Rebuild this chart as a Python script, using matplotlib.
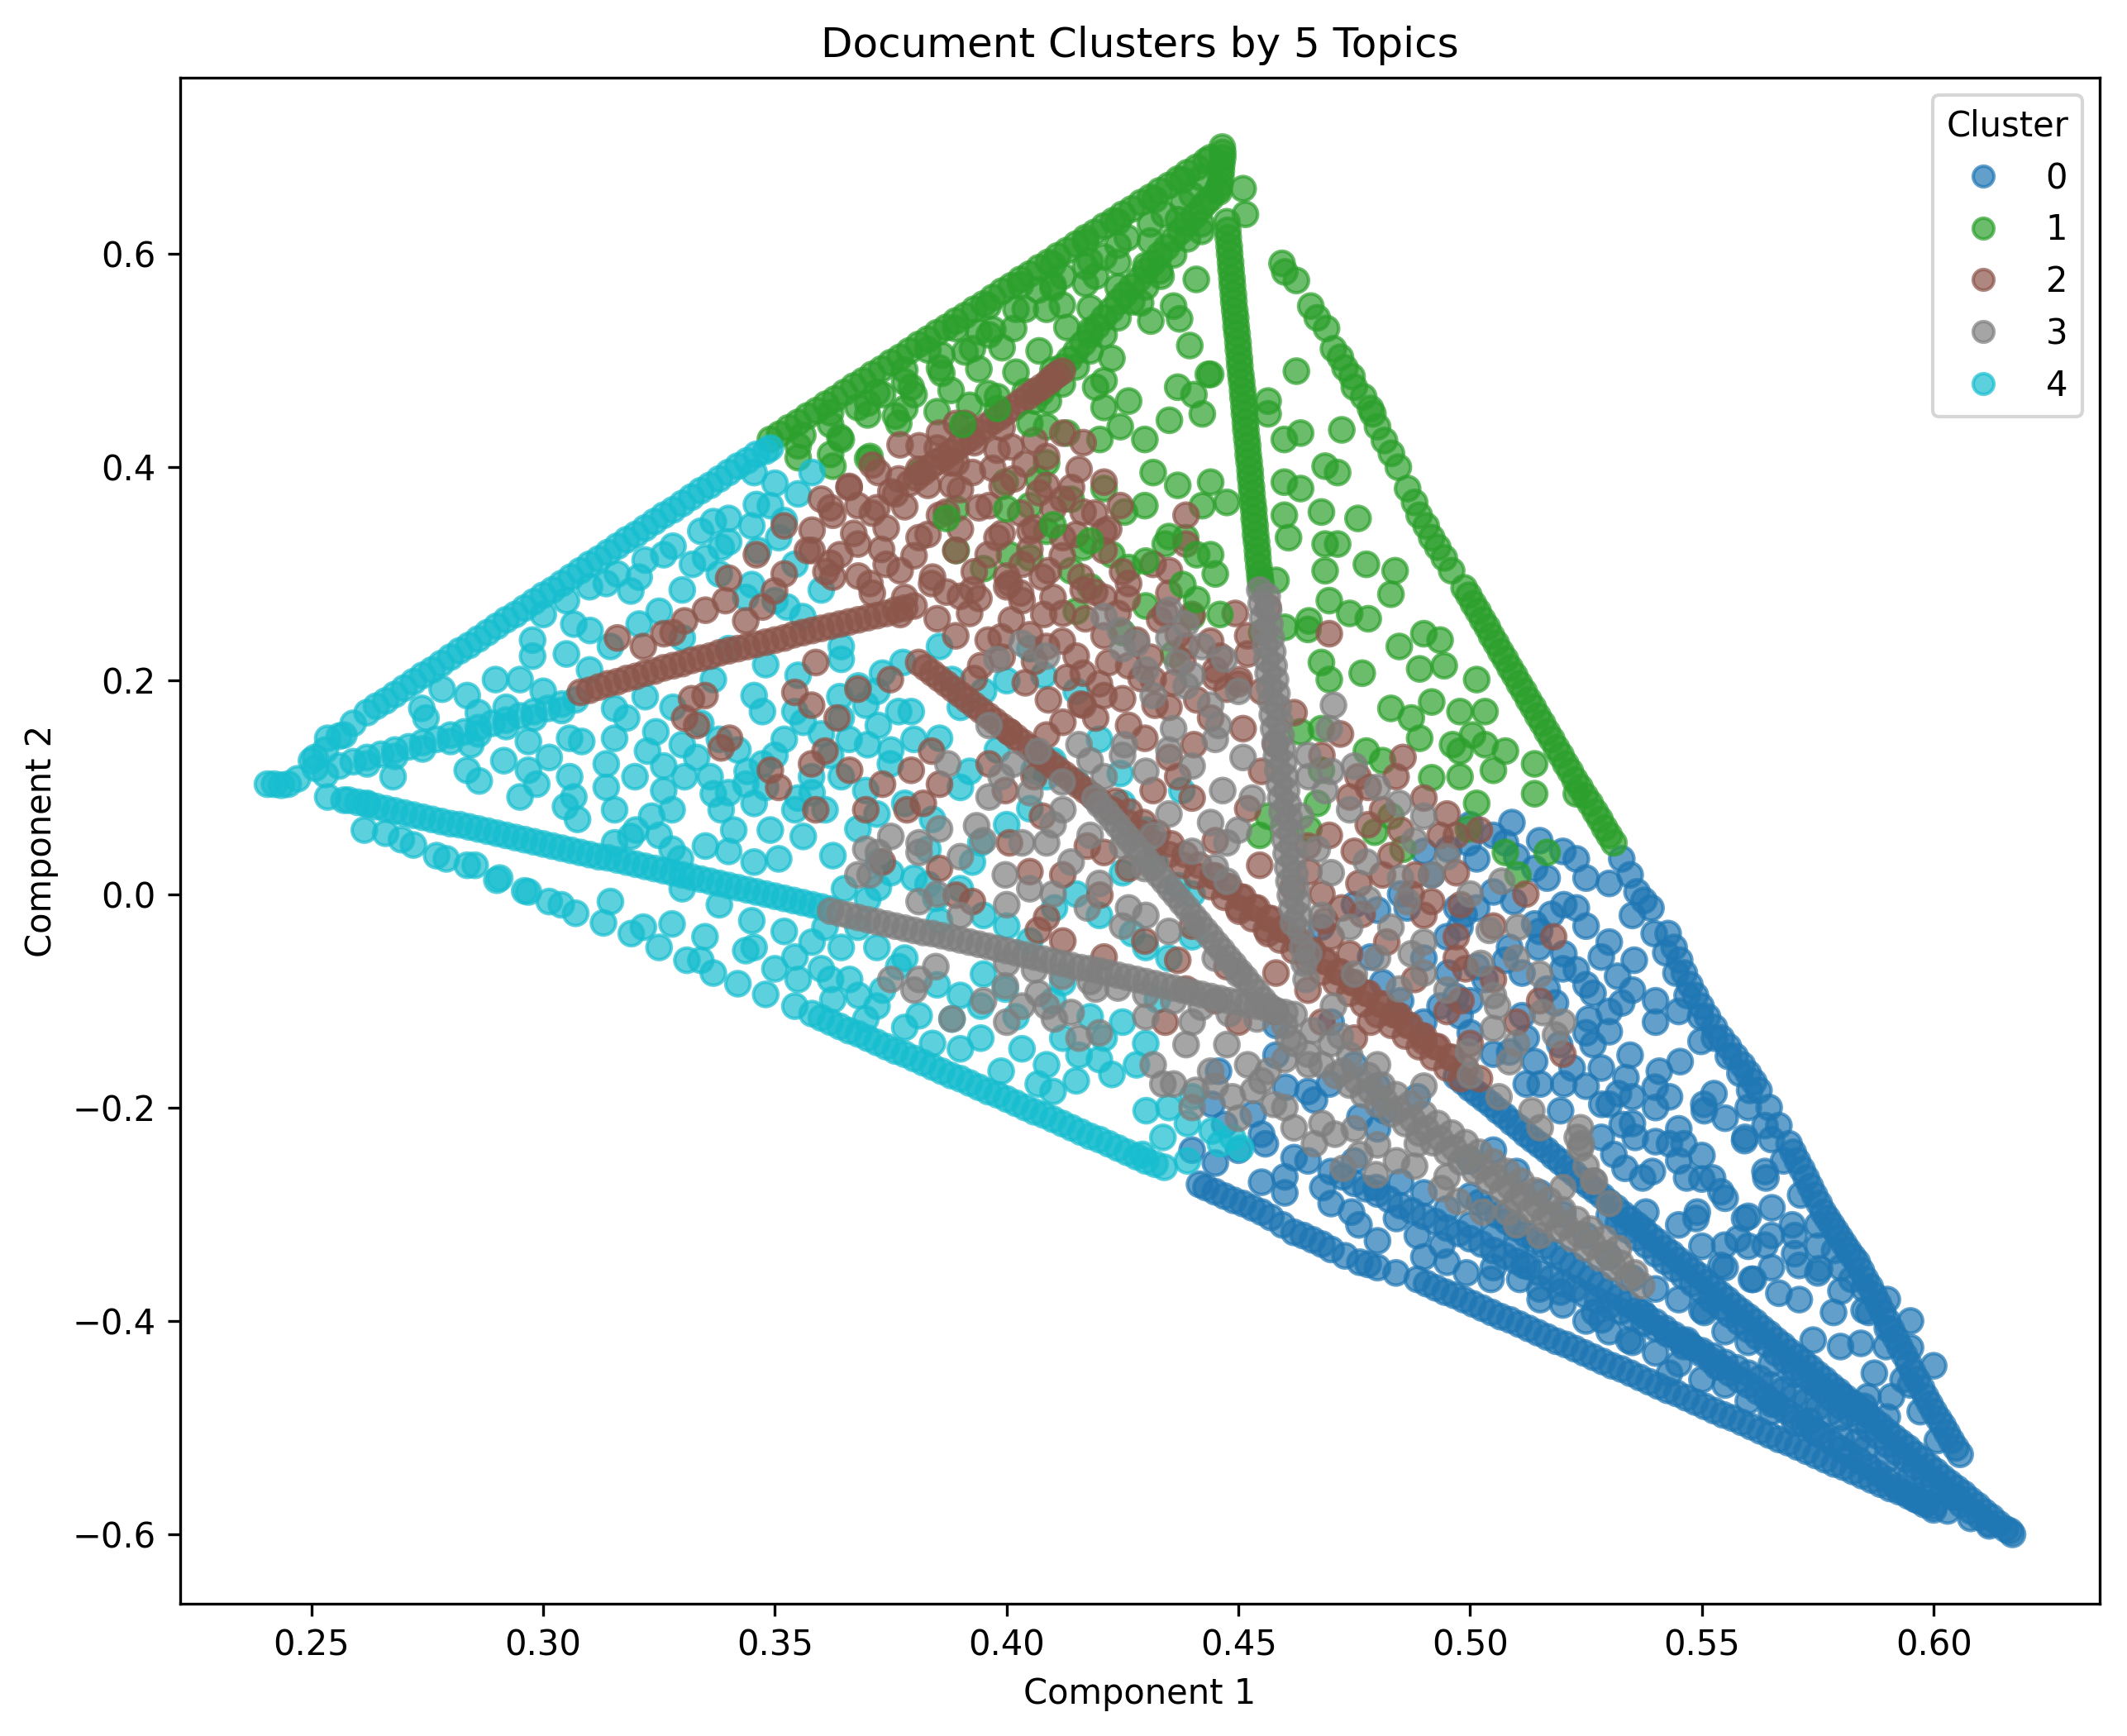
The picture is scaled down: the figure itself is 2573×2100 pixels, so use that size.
import numpy as np
import matplotlib
matplotlib.use("Agg")
import matplotlib.pyplot as plt

# points, groupes par cluster puis par "rayon"

# cluster 0 (bleu)
c0_edge = [(0.5327,0.033),(0.5345,0.018),(0.536,0.002),(0.5375,-0.006),(0.539,-0.013),(0.5427,-0.037),
           (0.5440,-0.050),(0.5452,-0.062),(0.5462,-0.074),(0.5474,-0.085),(0.5486,-0.095),(0.5498,-0.105),
           (0.5512,-0.115),(0.5527,-0.125),(0.5542,-0.135),(0.5557,-0.143),(0.5572,-0.152),(0.5587,-0.160),
           (0.5600,-0.168),(0.5612,-0.176),(0.5623,-0.184),(0.5645,-0.200),(0.5666,-0.217),(0.5688,-0.234),
           (0.5706,-0.250),(0.5725,-0.266),(0.5743,-0.282),(0.5762,-0.298),(0.5780,-0.310),(0.5798,-0.322),
           (0.5816,-0.334),(0.5835,-0.345),(0.5853,-0.361),(0.5872,-0.376),(0.5890,-0.392),(0.5909,-0.408),
           (0.5927,-0.424),(0.5946,-0.440),(0.5964,-0.455),(0.5983,-0.471),(0.6001,-0.485),(0.6020,-0.498),
           (0.6038,-0.512),(0.6057,-0.525),
           (0.5397,-0.037),(0.5422,-0.055),(0.5444,-0.074),(0.5468,-0.095),(0.5497,-0.115),(0.5527,-0.135),
           (0.5557,-0.152),(0.5582,-0.168),(0.5603,-0.184),(0.5636,-0.217),(0.5676,-0.250),(0.5713,-0.282),
           (0.5750,-0.310),(0.5786,-0.334),(0.5823,-0.361),(0.5860,-0.392),(0.5897,-0.424),(0.5934,-0.455),
           (0.5971,-0.485),(0.6008,-0.512),
           (0.5697,-0.242),(0.5716,-0.258),(0.5734,-0.274),(0.5753,-0.290),(0.5771,-0.304),(0.5789,-0.316),
           (0.5807,-0.328),(0.5826,-0.340),(0.5844,-0.353),(0.5863,-0.368),(0.5881,-0.384),(0.5900,-0.400),
           (0.5918,-0.416),(0.5937,-0.432),(0.5955,-0.448),(0.5974,-0.463),(0.5992,-0.478),(0.6011,-0.492),
           (0.6029,-0.505),(0.6048,-0.519)]
c0_ray_a = [(0.497,-0.171),(0.500,-0.182),(0.503,-0.192),(0.506,-0.203),(0.509,-0.214),(0.512,-0.225),
            (0.515,-0.235),(0.518,-0.246),(0.521,-0.257),(0.524,-0.268),(0.527,-0.278),(0.530,-0.289),
            (0.533,-0.300),(0.536,-0.310),(0.539,-0.321),(0.542,-0.332),(0.545,-0.343),(0.548,-0.353),
            (0.551,-0.364),(0.554,-0.375),(0.557,-0.386),(0.560,-0.396),(0.563,-0.407),(0.566,-0.418),
            (0.569,-0.429),(0.572,-0.439),(0.575,-0.450),(0.578,-0.461),(0.581,-0.472),(0.584,-0.482),
            (0.587,-0.493),(0.590,-0.504),(0.593,-0.514),(0.596,-0.525),(0.599,-0.536),(0.602,-0.547),
            (0.605,-0.557),(0.608,-0.568),(0.611,-0.579),(0.614,-0.590),(0.617,-0.600),(0.6165,-0.597),
            (0.4985,-0.176),(0.5015,-0.187),(0.5045,-0.197),(0.5075,-0.208),(0.5105,-0.219),(0.5135,-0.230),
            (0.5165,-0.240),(0.5195,-0.251),(0.5225,-0.262),(0.5255,-0.273),(0.5285,-0.283),(0.5315,-0.294),
            (0.5345,-0.305),(0.5375,-0.315),(0.5405,-0.326),(0.5435,-0.337),(0.5465,-0.348),(0.5495,-0.358),
            (0.5525,-0.369),(0.5555,-0.380),(0.5585,-0.391),(0.5615,-0.401),(0.5645,-0.412),(0.5675,-0.423),
            (0.5705,-0.434),(0.5735,-0.444),(0.5765,-0.455),(0.5795,-0.466),(0.5825,-0.477),(0.5855,-0.487),
            (0.5885,-0.498),(0.5915,-0.509),(0.5945,-0.519),(0.5975,-0.530),(0.6005,-0.541),(0.6035,-0.552),
            (0.6065,-0.562),(0.6095,-0.573),(0.6125,-0.584),(0.6155,-0.595)]
c0_ray_a2 = [(0.530,-0.301),(0.534,-0.315),(0.538,-0.329),(0.542,-0.344),(0.546,-0.358),(0.550,-0.372),
             (0.554,-0.387),(0.558,-0.401),(0.562,-0.415),(0.566,-0.430),(0.570,-0.444),(0.574,-0.458),
             (0.578,-0.473),(0.582,-0.487),(0.586,-0.501),(0.590,-0.516),(0.594,-0.530),(0.598,-0.544),
             (0.602,-0.558),(0.606,-0.572),(0.610,-0.584),
             (0.532,-0.308),(0.536,-0.322),(0.540,-0.337),(0.544,-0.351),(0.548,-0.365),(0.552,-0.380),
             (0.556,-0.394),(0.560,-0.408),(0.564,-0.422),(0.568,-0.437),(0.572,-0.451),(0.576,-0.465),
             (0.580,-0.480),(0.584,-0.494),(0.588,-0.508),(0.592,-0.523),(0.596,-0.537),(0.600,-0.551),
             (0.604,-0.565),(0.608,-0.578),(0.612,-0.590)]
c0_ray_b = [(0.500,-0.283),(0.504,-0.295),(0.508,-0.307),(0.512,-0.319),(0.516,-0.330),(0.520,-0.342),
            (0.524,-0.354),(0.528,-0.366),(0.532,-0.378),(0.536,-0.390),(0.540,-0.401),(0.544,-0.413),
            (0.548,-0.425),(0.552,-0.437),(0.556,-0.449),(0.560,-0.460),(0.564,-0.472),(0.568,-0.484),
            (0.572,-0.496),(0.576,-0.508),(0.580,-0.520),(0.584,-0.531),(0.588,-0.543),(0.592,-0.555),
            (0.596,-0.567),(0.600,-0.577),
            (0.502,-0.289),(0.506,-0.301),(0.510,-0.313),(0.514,-0.325),(0.518,-0.336),(0.522,-0.348),
            (0.526,-0.360),(0.530,-0.372),(0.534,-0.384),(0.538,-0.396),(0.542,-0.407),(0.546,-0.419),
            (0.550,-0.431),(0.554,-0.443),(0.558,-0.455),(0.562,-0.466),(0.566,-0.478),(0.570,-0.490),
            (0.574,-0.502),(0.578,-0.514),(0.582,-0.526),(0.586,-0.537),(0.590,-0.549),(0.594,-0.561),
            (0.598,-0.572)]
c0_low = [(0.4886,-0.361),(0.4926,-0.369),(0.4966,-0.376),(0.5006,-0.384),(0.5046,-0.392),(0.5086,-0.399),
          (0.5126,-0.407),(0.5166,-0.415),(0.5206,-0.422),(0.5246,-0.430),(0.5286,-0.438),(0.5326,-0.445),
          (0.5366,-0.453),(0.5406,-0.461),(0.5446,-0.468),(0.5486,-0.476),(0.5526,-0.484),(0.5566,-0.491),
          (0.5606,-0.499),(0.5646,-0.507),(0.5686,-0.514),(0.5726,-0.522),(0.5766,-0.530),(0.5806,-0.537),
          (0.5846,-0.545),(0.5886,-0.553),(0.5926,-0.560),(0.5966,-0.568),(0.600,-0.574),
          (0.4906,-0.365),(0.4946,-0.373),(0.4986,-0.380),(0.5026,-0.388),(0.5066,-0.396),(0.5106,-0.403),
          (0.5146,-0.411),(0.5186,-0.419),(0.5226,-0.426),(0.5266,-0.434),(0.5306,-0.442),(0.5346,-0.449),
          (0.5386,-0.457),(0.5426,-0.465),(0.5466,-0.472),(0.5506,-0.480),(0.5546,-0.488),(0.5586,-0.495),
          (0.5626,-0.503),(0.5666,-0.511),(0.5706,-0.518),(0.5746,-0.526),(0.5786,-0.534),(0.5826,-0.541),
          (0.5866,-0.549),(0.5906,-0.557),(0.5946,-0.564),(0.5985,-0.571),(0.603,-0.578),(0.608,-0.585),
          (0.612,-0.592),
          (0.4416,-0.272),(0.445,-0.279),(0.449,-0.287),(0.453,-0.294),(0.457,-0.303),(0.462,-0.317),
          (0.466,-0.324),(0.470,-0.333),(0.4762,-0.345),(0.480,-0.350),
          (0.443,-0.275),(0.447,-0.283),(0.451,-0.290),(0.455,-0.298),(0.4595,-0.310),(0.464,-0.320),
          (0.468,-0.328),(0.473,-0.339),(0.478,-0.347),(0.484,-0.355)]
c0_ray_e = [(0.470,-0.260),(0.475,-0.271),(0.480,-0.281),(0.485,-0.292),(0.490,-0.302),(0.495,-0.313),
            (0.500,-0.323),(0.505,-0.334),(0.510,-0.344),(0.515,-0.355),(0.520,-0.365),(0.525,-0.376),
            (0.530,-0.386),(0.535,-0.397),(0.540,-0.407),(0.545,-0.418),(0.550,-0.428),(0.555,-0.439),
            (0.560,-0.449),(0.565,-0.460),(0.570,-0.470),(0.575,-0.481),(0.580,-0.491),
            (0.4725,-0.265),(0.4775,-0.276),(0.4825,-0.286),(0.4875,-0.297),(0.4925,-0.307),(0.4975,-0.318),
            (0.5025,-0.328),(0.5075,-0.339),(0.5125,-0.349),(0.5175,-0.360),(0.5225,-0.370),(0.5275,-0.381),
            (0.5325,-0.391),(0.5375,-0.402),(0.5425,-0.412),(0.5475,-0.423),(0.5525,-0.433),(0.5575,-0.444),
            (0.5625,-0.454),(0.5675,-0.465),(0.5725,-0.475),(0.5775,-0.486)]
c0_ray_f = [(0.525,-0.180),(0.530,-0.197),(0.535,-0.215),(0.540,-0.232),(0.545,-0.250),(0.550,-0.267),
            (0.555,-0.285),(0.560,-0.302),(0.565,-0.320),(0.570,-0.337),(0.575,-0.355),(0.580,-0.372),
            (0.585,-0.390),(0.590,-0.407),(0.595,-0.425),(0.600,-0.442)]
c0_scatter = [(0.509,0.067),(0.5076,0.048),(0.4996,0.048),(0.5229,0.033),(0.5014,0.033),(0.5139,0.024),
              (0.5166,0.015),(0.505,0.002),(0.5094,-0.007),(0.5202,-0.010),(0.5229,-0.013),(0.5175,-0.019),
              (0.4987,-0.019),(0.5014,-0.013),(0.5139,-0.028),(0.5085,-0.050),(0.5148,-0.050),(0.5202,-0.056),
              (0.5283,-0.059),(0.5354,-0.062),(0.5076,-0.062),(0.5112,-0.074),(0.5229,-0.071),(0.5318,-0.077),
              (0.5032,-0.080),(0.5166,-0.089),(0.5265,-0.093),(0.5327,-0.102),(0.5184,-0.102),(0.4978,-0.114),
              (0.5112,-0.114),(0.5256,-0.117),(0.5300,-0.129),(0.5121,-0.135),(0.5193,-0.141),(0.5265,-0.141),
              (0.5345,-0.151),(0.5085,-0.148),(0.5139,-0.157),(0.5220,-0.163),(0.5283,-0.163),(0.5336,-0.172),
              (0.5408,-0.166),(0.5453,-0.157),(0.5498,-0.138),(0.5202,-0.178),(0.5121,-0.178),(0.5014,-0.068),
              (0.4969,-0.096),(0.4978,-0.031),
              (0.532,-0.187),(0.5430,-0.190),(0.5504,-0.197),(0.5526,-0.187),(0.5592,-0.231),(0.5636,-0.260),
              (0.5393,-0.260),(0.5467,-0.266),(0.5334,-0.257),(0.5283,-0.228),(0.5356,-0.228),(0.543,-0.234),
              (0.5379,-0.298),(0.549,-0.298),(0.5541,-0.279),(0.5592,-0.304),(0.5651,-0.294),(0.5695,-0.310),
              (0.5578,-0.323),(0.5636,-0.329),(0.5607,-0.361),(0.5666,-0.374),(0.5710,-0.380),(0.5710,-0.348),
              (0.5754,-0.351),(0.5784,-0.392),(0.5740,-0.418),(0.5799,-0.424),(0.5843,-0.421),(0.5872,-0.449),
              (0.5909,-0.471),(0.5858,-0.471),(0.5541,-0.348),(0.5533,-0.443),(0.5651,-0.478),(0.5732,-0.494),
              (0.5835,-0.513),(0.5268,-0.392),(0.5342,-0.418),(0.543,-0.449),(0.5467,-0.418),
              (0.4443,-0.197),(0.4532,-0.206),(0.4558,-0.234),(0.462,-0.247),(0.4682,-0.275),(0.4744,-0.298),
              (0.4797,-0.275),(0.4841,-0.304),(0.4886,-0.320),(0.4939,-0.329),(0.4992,-0.355),(0.5045,-0.361),
              (0.5107,-0.361),(0.5151,-0.380),(0.4762,-0.209),(0.4815,-0.203),(0.4886,-0.190),(0.4664,-0.193),
              (0.4602,-0.181),(0.4470,-0.216),(0.5195,-0.203),(0.5284,-0.197),(0.5328,-0.216),(0.531,-0.244),
              (0.5372,-0.266),(0.5461,-0.234),(0.5523,-0.266),(0.5593,-0.228),(0.5487,-0.304),(0.5549,-0.329),
              (0.5611,-0.361),(0.5505,-0.392),(0.5461,-0.424),(0.5372,-0.392),(0.5284,-0.399),(0.5195,-0.373),
              (0.5116,-0.348),(0.5151,-0.178),(0.5399,-0.181),(0.5505,-0.203),(0.5638,-0.266),
              (0.4953,0.042),(0.4917,0.018),(0.4971,-0.013),(0.4864,-0.013),(0.4785,-0.059),(0.4679,-0.031),
              (0.4811,-0.083),(0.4935,-0.105),(0.4953,-0.074),(0.4581,-0.151),(0.4696,-0.178),(0.4457,-0.166),
              (0.4581,-0.123),(0.440,-0.240),(0.445,-0.252)]
c0_more = [(0.475,-0.250),(0.480,-0.220),(0.485,-0.270),(0.490,-0.280),(0.495,-0.295),(0.500,-0.310),
           (0.505,-0.320),(0.510,-0.330),(0.500,-0.250),(0.505,-0.240),(0.510,-0.260),(0.515,-0.280),
           (0.520,-0.300),(0.525,-0.320),(0.530,-0.340),(0.535,-0.360),(0.540,-0.370),(0.545,-0.380),
           (0.550,-0.390),(0.555,-0.410),(0.560,-0.420),(0.565,-0.440),(0.570,-0.450),(0.575,-0.460),
           (0.580,-0.470),(0.585,-0.480),(0.590,-0.490),(0.545,-0.310),(0.550,-0.330),(0.555,-0.350),
           (0.560,-0.330),(0.565,-0.350),(0.570,-0.320),(0.575,-0.330),(0.580,-0.350),(0.585,-0.370),
           (0.590,-0.380),(0.595,-0.400),(0.595,-0.460),(0.555,-0.210),(0.560,-0.200),(0.565,-0.230),
           (0.550,-0.245),(0.545,-0.220),(0.540,-0.200),(0.535,-0.190),(0.525,-0.130),(0.530,-0.110),
           (0.535,-0.090),(0.540,-0.100),(0.540,-0.120),(0.545,-0.110),(0.525,-0.085),(0.520,-0.070),
           (0.515,-0.035),(0.525,-0.030),(0.530,-0.045),(0.535,-0.020),(0.530,0.010),(0.525,0.015),
           (0.520,0.040),(0.510,0.035),(0.505,0.055),(0.500,0.065),(0.515,0.050),(0.490,0.040),
           (0.485,0.000),(0.480,-0.015),(0.475,-0.010),(0.490,-0.060),(0.485,-0.100),(0.490,-0.120),
           (0.500,-0.130),(0.505,-0.150),(0.500,-0.100),(0.495,-0.040),(0.470,-0.120),(0.475,-0.160),
           (0.480,-0.180),(0.465,-0.185),(0.455,-0.225),(0.450,-0.240),(0.460,-0.265),(0.465,-0.250),
           (0.470,-0.290),(0.476,-0.310),(0.480,-0.325),(0.455,-0.270),(0.460,-0.280),(0.490,-0.340),
           (0.495,-0.345),(0.505,-0.350),(0.515,-0.370),(0.520,-0.385),(0.525,-0.400),(0.530,-0.410),
           (0.535,-0.420),(0.540,-0.430),(0.545,-0.440),(0.550,-0.455),(0.555,-0.460),(0.560,-0.475),
           (0.565,-0.485),(0.570,-0.495),(0.575,-0.505),(0.580,-0.510),(0.585,-0.520),(0.590,-0.530),
           (0.595,-0.545),(0.600,-0.555),(0.605,-0.565)]

# cluster 1 (vert)
c1_tip = [(0.4465,0.700),(0.4466,0.695),(0.4466,0.690),(0.4464,0.684),(0.4463,0.678),(0.4462,0.672),
          (0.4460,0.665),(0.4458,0.658)]
c1_top = [(0.349,0.426),(0.353,0.437),(0.357,0.448),(0.361,0.459),(0.365,0.470),(0.369,0.481),(0.373,0.492),
          (0.377,0.503),(0.381,0.515),(0.385,0.526),(0.389,0.537),(0.393,0.548),(0.397,0.559),(0.401,0.570),
          (0.405,0.581),(0.409,0.592),(0.413,0.603),(0.417,0.615),(0.421,0.626),(0.425,0.637),(0.429,0.648),
          (0.433,0.659),(0.437,0.670),(0.441,0.681),(0.444,0.690),
          (0.351,0.431),(0.355,0.442),(0.359,0.453),(0.363,0.464),(0.367,0.476),(0.371,0.487),(0.375,0.498),
          (0.379,0.509),(0.383,0.520),(0.387,0.531),(0.391,0.542),(0.395,0.553),(0.399,0.565),(0.403,0.576),
          (0.407,0.587),(0.411,0.598),(0.415,0.609),(0.419,0.620),(0.423,0.631),(0.427,0.642),(0.431,0.653),
          (0.435,0.664),(0.439,0.676),(0.443,0.687),
          (0.355,0.420),(0.362,0.440),(0.370,0.460),(0.378,0.480),(0.386,0.505),(0.394,0.527),(0.402,0.548),
          (0.410,0.571),(0.418,0.593),(0.426,0.615),(0.434,0.637),(0.440,0.655)]
c1_wedge = [(0.372,0.470),(0.380,0.468),(0.388,0.472),(0.396,0.469),(0.404,0.471),
            (0.378,0.491),(0.386,0.488),(0.394,0.492),(0.402,0.489),(0.410,0.491),
            (0.383,0.510),(0.391,0.508),(0.399,0.512),(0.407,0.509),
            (0.389,0.530),(0.397,0.529),(0.413,0.531),(0.418,0.528),
            (0.396,0.551),(0.404,0.548),(0.412,0.552),(0.418,0.549),
            (0.403,0.571),(0.410,0.568),(0.417,0.572),(0.424,0.569),
            (0.410,0.590),(0.417,0.588),(0.424,0.592),(0.430,0.589),
            (0.417,0.611),(0.424,0.608),(0.431,0.612),
            (0.424,0.630),(0.431,0.628),(0.437,0.632),
            (0.432,0.651),(0.438,0.648),(0.438,0.669),(0.442,0.671),
            (0.356,0.430),(0.364,0.428),(0.362,0.451),(0.370,0.449),(0.355,0.409),(0.362,0.412),(0.370,0.408),
            (0.378,0.455),(0.385,0.452),(0.392,0.458),(0.398,0.466)]
c1_steep = [(0.406,0.462),(0.409,0.478),(0.412,0.494),(0.415,0.509),(0.418,0.524),(0.421,0.540),(0.424,0.555),
            (0.427,0.569),(0.430,0.584),(0.433,0.599),(0.436,0.614),(0.439,0.628),(0.442,0.643),(0.444,0.652),
            (0.4455,0.660),
            (0.4075,0.470),(0.4105,0.486),(0.4135,0.501),(0.4165,0.516),(0.4195,0.532),(0.4225,0.547),
            (0.4255,0.562),(0.4285,0.576),(0.4315,0.591),(0.4345,0.606),(0.4375,0.621),(0.4405,0.635),
            (0.443,0.648),
            (0.409,0.462),(0.412,0.478),(0.415,0.494),(0.418,0.509),(0.421,0.524),(0.424,0.540),(0.427,0.555),
            (0.430,0.569),(0.433,0.584),(0.436,0.599),(0.439,0.614),(0.442,0.628)]
c1_vert = [(0.4475,0.630),(0.4478,0.615),(0.4481,0.600),(0.4484,0.585),(0.4487,0.570),(0.4490,0.555),
           (0.4494,0.540),(0.4497,0.525),(0.4500,0.510),(0.4503,0.495),(0.4507,0.480),(0.4510,0.465),
           (0.4513,0.450),(0.4516,0.435),(0.4520,0.420),(0.4523,0.405),(0.4526,0.390),(0.4529,0.375),
           (0.4533,0.360),(0.4536,0.345),(0.4539,0.330),(0.4542,0.315),(0.4546,0.300),(0.4549,0.290),
           (0.4477,0.622),(0.4480,0.607),(0.4483,0.592),(0.4486,0.577),(0.4489,0.562),(0.4492,0.547),
           (0.4495,0.532),(0.4499,0.517),(0.4502,0.502),(0.4505,0.487),(0.4509,0.472),(0.4512,0.457),
           (0.4515,0.442),(0.4518,0.427),(0.4521,0.412),(0.4525,0.397),(0.4528,0.382),(0.4531,0.367),
           (0.4534,0.352),(0.4537,0.337),(0.4541,0.322),(0.4544,0.307),(0.4547,0.295)]
c1_right = [(0.451,0.661),(0.4515,0.637),(0.442,0.621),(0.4594,0.591),(0.4600,0.583),(0.4656,0.551),
            (0.469,0.530),(0.4705,0.511),(0.472,0.503),(0.473,0.493),(0.475,0.475),(0.477,0.466),(0.479,0.450),
            (0.480,0.438),(0.4815,0.425),(0.483,0.413),(0.4865,0.380),(0.488,0.367),(0.489,0.355),
            (0.4917,0.334),(0.4944,0.315),(0.496,0.303),
            (0.4625,0.575),(0.467,0.540),(0.4745,0.485),(0.4785,0.455),(0.4845,0.400),(0.4905,0.345),
            (0.493,0.325),
            (0.4987,0.287),(0.5007,0.272),(0.5027,0.257),(0.5046,0.242),(0.5066,0.227),(0.5086,0.212),
            (0.5106,0.197),(0.5126,0.182),(0.5146,0.167),(0.5166,0.152),(0.5186,0.137),(0.5206,0.122),
            (0.5226,0.107),(0.5248,0.092),(0.5270,0.077),(0.5290,0.062),(0.531,0.048),
            (0.4997,0.280),(0.5017,0.265),(0.5037,0.250),(0.5056,0.235),(0.5076,0.220),(0.5096,0.205),
            (0.5116,0.190),(0.5136,0.175),(0.5156,0.160),(0.5176,0.145),(0.5196,0.130),(0.5216,0.115),
            (0.5237,0.100),(0.5259,0.085),(0.5280,0.070),(0.5300,0.055)]
c1_scatter = [(0.4409,0.576),(0.4333,0.579),(0.436,0.551),(0.4373,0.539),(0.4311,0.537),(0.4289,0.554),
              (0.4395,0.514),(0.4435,0.487),(0.4422,0.450),(0.4625,0.490),(0.4564,0.462),(0.4564,0.450),
              (0.4599,0.426),(0.4634,0.432),(0.4723,0.435),(0.4687,0.401),(0.4714,0.395),(0.4599,0.386),
              (0.4634,0.380),(0.4599,0.355),(0.4679,0.358),(0.4758,0.352),(0.4608,0.334),(0.4687,0.328),
              (0.4714,0.328),(0.4776,0.309),(0.4838,0.303),(0.4687,0.303),(0.4581,0.294),(0.444,0.386),
              (0.4475,0.367),(0.444,0.487),(0.4369,0.475),(0.4404,0.468),(0.4351,0.444),(0.4298,0.426),
              (0.4263,0.462),(0.4227,0.502),(0.421,0.481),(0.4192,0.475),(0.421,0.456),(0.4245,0.438),
              (0.4316,0.395),(0.4369,0.383),(0.4422,0.364),(0.4386,0.334),(0.4342,0.328),(0.444,0.318),
              (0.4298,0.364),(0.4254,0.358),(0.421,0.380),(0.4139,0.370),(0.4086,0.404),(0.4068,0.389),
              (0.405,0.364),(0.3997,0.386),(0.3891,0.361),(0.3891,0.322),(0.4006,0.318),(0.4086,0.340),
              (0.4165,0.325),(0.4227,0.318),(0.4263,0.306),(0.4139,0.303),(0.4201,0.426),(0.413,0.432),
              (0.4086,0.438),(0.421,0.597),(0.4192,0.579),(0.4086,0.548),(0.4121,0.579),(0.4068,0.566),
              (0.3962,0.524),(0.4015,0.530),(0.3926,0.511),(0.3855,0.493),(0.3794,0.475),(0.3732,0.468),
              (0.3679,0.456),(0.3643,0.426),(0.3705,0.410),(0.3767,0.441),(0.3625,0.401),(0.3811,0.395),
              (0.4652,0.256),(0.474,0.263),(0.4696,0.275),(0.4829,0.281),(0.49,0.244),(0.4935,0.238),
              (0.4847,0.232),(0.4767,0.207),(0.4696,0.201),(0.4679,0.217),(0.4891,0.211),(0.4944,0.214),
              (0.4829,0.174),(0.4873,0.165),(0.4917,0.180),(0.4679,0.155),(0.4634,0.152),(0.4962,0.140),
              (0.4891,0.146),(0.4776,0.134),(0.4811,0.125),(0.4917,0.109),(0.4679,0.116),(0.4670,0.085),
              (0.4564,0.073),(0.4652,0.061),(0.4829,0.073),(0.4794,0.058),(0.4855,0.042),(0.4546,0.055),
              (0.5014,0.201),(0.4978,0.171),(0.5032,0.171),(0.5005,0.149),(0.4978,0.134),(0.5032,0.140),
              (0.5076,0.134),(0.5050,0.116),(0.4978,0.110),(0.5139,0.122),(0.5014,0.085),(0.5139,0.094),
              (0.5229,0.094),(0.4996,0.061),(0.5076,0.039),(0.5166,0.039),(0.5103,0.018),
              (0.405,0.315),(0.395,0.305),(0.418,0.288),(0.430,0.270),(0.415,0.265),(0.440,0.260),
              (0.425,0.245),(0.436,0.225),(0.455,0.245),(0.460,0.250),(0.465,0.248),(0.478,0.258)]
c1_late = [(0.435,0.335),(0.441,0.318),(0.430,0.312),(0.445,0.300),(0.438,0.290),(0.418,0.331),
           (0.410,0.346),(0.400,0.361),(0.387,0.352),(0.441,0.276),(0.446,0.262),(0.3905,0.440),
           (0.398,0.455),(0.405,0.441),(0.376,0.448)]

# cluster 2 (brun)
c2_spike = [(0.3720,0.362),(0.3760,0.375),(0.3790,0.385),(0.3820,0.395),(0.3850,0.405),(0.3880,0.414),
            (0.3910,0.424),(0.3940,0.433),(0.3970,0.443),(0.4000,0.452),(0.4030,0.461),(0.4060,0.471),
            (0.4090,0.480),(0.4110,0.487),(0.4120,0.490),
            (0.3805,0.390),(0.3835,0.400),(0.3865,0.409),(0.3895,0.419),(0.3925,0.428),(0.3955,0.438),
            (0.3985,0.447),(0.4015,0.456),(0.4045,0.466),(0.4075,0.475),(0.4100,0.484)]
c2_diag = [(0.381,0.217),(0.384,0.207),(0.387,0.197),(0.390,0.187),(0.393,0.177),(0.396,0.167),(0.399,0.157),
           (0.402,0.147),(0.405,0.137),(0.408,0.127),(0.411,0.117),(0.414,0.107),(0.417,0.097),(0.420,0.087),
           (0.423,0.077),(0.426,0.067),(0.429,0.057),(0.432,0.047),(0.435,0.037),(0.438,0.027),(0.441,0.017),
           (0.444,0.007),(0.447,-0.003),(0.450,-0.013),(0.453,-0.023),(0.456,-0.033),(0.459,-0.043),
           (0.462,-0.053),(0.465,-0.063),(0.468,-0.073),(0.471,-0.083),(0.474,-0.093),(0.477,-0.103),
           (0.480,-0.113),(0.483,-0.123),(0.486,-0.133),(0.489,-0.143),(0.492,-0.153),(0.495,-0.163),
           (0.498,-0.173),
           (0.445,0.017),(0.448,0.007),(0.451,-0.003),(0.454,-0.013),(0.457,-0.023),(0.460,-0.033),
           (0.463,-0.043),(0.466,-0.053),(0.469,-0.063),(0.472,-0.073),(0.475,-0.083),(0.478,-0.093),
           (0.481,-0.103),(0.484,-0.113),(0.487,-0.123),(0.490,-0.133),(0.493,-0.143),(0.496,-0.153),
           (0.499,-0.163),(0.502,-0.173),
           (0.4235,0.087),(0.4265,0.077),(0.4295,0.067),(0.4325,0.057),(0.4355,0.047),(0.4385,0.037),
           (0.4415,0.027),(0.4445,0.017),(0.4475,0.007),(0.4505,-0.003),(0.4535,-0.013),(0.4565,-0.023),
           (0.4595,-0.033),(0.4625,-0.043),(0.4655,-0.053),(0.4685,-0.063),(0.4715,-0.073),(0.4745,-0.083),
           (0.4775,-0.093),(0.4805,-0.103),(0.4835,-0.113),(0.4865,-0.123),(0.4895,-0.133),(0.4925,-0.143),
           (0.4955,-0.153),
           (0.3825,0.212),(0.3855,0.202),(0.3885,0.192),(0.3915,0.182),(0.3945,0.172),(0.3975,0.162),
           (0.4005,0.152),(0.4035,0.142),(0.4065,0.132),(0.4095,0.122),(0.4125,0.112),(0.4155,0.102),
           (0.4185,0.092)]
c2_arc = [(0.308,0.189),(0.312,0.194),(0.316,0.199),(0.320,0.204),(0.324,0.209),(0.328,0.214),(0.332,0.219),
          (0.336,0.223),(0.340,0.228),(0.344,0.232),(0.348,0.236),(0.352,0.240),(0.356,0.245),(0.360,0.249),
          (0.364,0.253),(0.368,0.257),(0.372,0.261),(0.376,0.266),(0.380,0.270),(0.390,0.279),(0.400,0.288),
          (0.310,0.191),(0.314,0.197),(0.318,0.202),(0.322,0.207),(0.326,0.212),(0.330,0.216),(0.334,0.221),
          (0.338,0.226),(0.342,0.230),(0.346,0.234),(0.350,0.238),(0.354,0.243),(0.358,0.247),(0.362,0.251),
          (0.366,0.255),(0.370,0.259),(0.374,0.263),(0.378,0.268)]
c2_fill = [(0.391,0.441),(0.399,0.437),
           (0.377,0.421),(0.385,0.418),(0.393,0.423),(0.401,0.419),(0.406,0.425),
           (0.371,0.402),(0.381,0.398),(0.388,0.404),(0.397,0.399),(0.404,0.403),
           (0.366,0.381),(0.375,0.377),(0.383,0.383),(0.390,0.379),(0.399,0.382),(0.407,0.376),(0.414,0.381),
           (0.362,0.362),(0.371,0.357),(0.378,0.363),(0.387,0.358),(0.394,0.362),(0.403,0.357),(0.410,0.361),
           (0.419,0.357),
           (0.358,0.341),(0.367,0.338),(0.374,0.343),(0.383,0.337),(0.390,0.342),(0.399,0.338),(0.406,0.343),
           (0.415,0.337),(0.422,0.342),
           (0.357,0.322),(0.364,0.318),(0.373,0.323),(0.380,0.317),(0.389,0.322),(0.396,0.318),(0.405,0.323),
           (0.412,0.317),(0.421,0.322),
           (0.361,0.302),(0.368,0.298),(0.377,0.303),(0.384,0.297),(0.393,0.302),(0.400,0.298),(0.409,0.303),
           (0.416,0.297),(0.425,0.302),
           (0.371,0.282),(0.378,0.278),(0.387,0.283),(0.394,0.277),(0.403,0.282),(0.410,0.278),(0.419,0.283),
           (0.426,0.277),(0.435,0.282),
           (0.377,0.262),(0.385,0.258),(0.392,0.263),(0.401,0.257),(0.408,0.262),(0.417,0.258),(0.424,0.263),
           (0.433,0.257),(0.440,0.262),
           (0.389,0.242),(0.396,0.238),(0.405,0.243),(0.412,0.237),(0.421,0.242),(0.428,0.238),(0.437,0.243),
           (0.444,0.237),(0.452,0.242),
           (0.399,0.222),(0.406,0.218),(0.415,0.223),(0.422,0.217),(0.431,0.222),(0.438,0.218),(0.446,0.223),
           (0.393,0.202),(0.404,0.198),(0.413,0.203),(0.420,0.197),(0.429,0.202),(0.436,0.198),(0.445,0.203),
           (0.450,0.197),
           (0.409,0.182),(0.416,0.178),(0.425,0.183),(0.432,0.177),(0.441,0.182),
           (0.455,0.190),(0.462,0.170),(0.468,0.130),(0.472,0.150),(0.478,0.100),(0.484,0.110),(0.490,0.090),
           (0.495,0.075),(0.502,0.060),(0.485,0.060),(0.475,0.040),(0.468,0.000),(0.476,0.010),(0.490,-0.020),
           (0.482,-0.045),(0.470,-0.040),(0.488,-0.080),(0.465,-0.090),(0.458,-0.110),(0.468,-0.120),
           (0.475,-0.135),(0.450,-0.120),(0.445,-0.100),(0.440,-0.030),(0.445,0.050),(0.452,0.080),
           (0.458,0.140),(0.465,0.045),(0.478,0.065),(0.455,0.115),(0.440,0.090),(0.435,0.175),(0.445,0.210),
           (0.452,0.225)]
c2_scatter = [(0.3216,0.232),(0.326,0.244),(0.3305,0.256),(0.332,0.183),(0.3349,0.186),(0.3305,0.165),
              (0.3331,0.158),(0.3402,0.146),(0.3384,0.137),(0.3490,0.116),(0.3508,0.100),(0.3543,0.189),
              (0.3579,0.177),(0.3588,0.217),(0.3473,0.269),(0.3393,0.275),(0.3437,0.256),(0.3499,0.284),
              (0.3579,0.122),(0.3588,0.079),
              (0.3634,0.165),(0.3679,0.192),(0.3749,0.201),(0.3608,0.134),(0.3661,0.116),(0.3732,0.103),
              (0.3794,0.116),(0.3838,0.134),(0.3855,0.103),(0.382,0.085),(0.3696,0.079),(0.3732,0.030),
              (0.3855,0.024),(0.3926,-0.007),(0.3891,-0.001),(0.3785,0.079),(0.3962,0.122),(0.4006,0.152),
              (0.3997,0.097),(0.4059,0.110),(0.4086,0.149),(0.4121,0.161),(0.4165,0.177),(0.421,0.186),
              (0.4263,0.158),(0.4298,0.146),(0.4192,0.165),(0.4351,0.128),(0.4369,0.110),(0.4316,0.097),
              (0.4227,0.079),(0.421,0.039),(0.4174,0.045),(0.4263,0.024),(0.4201,-0.001),(0.4121,0.018),
              (0.4086,-0.022),(0.4068,-0.034),(0.4121,-0.044),(0.421,-0.059),(0.4298,-0.044),(0.4369,-0.062),
              (0.4387,-0.089),(0.4342,-0.120),(0.4475,-0.068),(0.4564,-0.037),(0.4546,0.027),(0.4581,-0.074),
              (0.4652,-0.056),(0.4687,-0.025),(0.4723,-0.013),(0.4652,0.021),(0.4696,0.055),(0.4758,0.110),
              (0.474,0.091),(0.4811,0.079),(0.4855,0.128),(0.4829,0.036),(0.4811,0.018),(0.4882,0.018),
              (0.4873,0.000),(0.4917,-0.007),(0.4935,0.055),(0.4767,-0.019),(0.474,-0.056),(0.4785,-0.120),
              (0.4847,-0.114),(0.490,-0.138),(0.4696,0.244),(0.4564,0.269),(0.4493,0.263),(0.4475,0.192),
              (0.451,0.155),(0.4502,0.201),(0.444,0.165),(0.4387,0.232),(0.4342,0.263),(0.421,0.278),
              (0.4121,0.263),(0.4033,0.275),(0.3988,0.241),(0.4086,0.232),(0.3944,0.214),(0.4165,0.207),
              (0.4263,0.214),(0.4316,0.201),(0.4404,0.140),(0.4077,0.073),(0.4006,0.048),(0.405,0.021),
              (0.4502,-0.016),(0.4617,0.006),
              (0.4121,0.432),(0.4165,0.423),(0.4086,0.410),(0.4156,0.398),(0.421,0.386),(0.4121,0.370),
              (0.4165,0.358),(0.4245,0.364),(0.4387,0.355),(0.4387,0.328),(0.4351,0.303),(0.421,0.340),
              (0.4121,0.334),(0.405,0.340),(0.4033,0.309),(0.4077,0.297),(0.3979,0.334),(0.3962,0.364),
              (0.3926,0.395),(0.3855,0.432),(0.3891,0.441),(0.3811,0.420),(0.3767,0.389),(0.3723,0.395),
              (0.3679,0.364),(0.3625,0.355),(0.3679,0.328),(0.374,0.309),(0.3811,0.334),(0.3855,0.355),
              (0.3625,0.297),(0.3705,0.291),(0.3838,0.291),(0.3926,0.285),(0.4006,0.291),(0.4165,0.285),
              (0.4263,0.291),(0.4316,0.309),(0.4086,0.383),(0.4015,0.389),(0.3891,0.404),(0.3979,0.416),
              (0.3882,0.383),
              (0.352,0.345),(0.358,0.322),(0.346,0.318),(0.340,0.296),(0.352,0.300),(0.362,0.310),
              (0.366,0.382),(0.360,0.370),(0.335,0.266),(0.328,0.245),(0.316,0.240),
              (0.497,-0.060),(0.505,-0.080),(0.510,-0.120),(0.515,-0.100),(0.500,-0.140),(0.520,-0.150),
              (0.505,-0.030),(0.512,0.000),(0.518,-0.040),(0.495,-0.110),(0.497,0.055),(0.497,0.020),
              (0.498,-0.010),(0.497,-0.040),(0.499,-0.070),(0.498,-0.100)]

# cluster 3 (gris)
c3_vert = [(0.4546,0.285),(0.4549,0.272),(0.4552,0.259),(0.4555,0.246),(0.4558,0.233),(0.4561,0.220),
           (0.4564,0.207),(0.4567,0.194),(0.4570,0.181),(0.4573,0.168),(0.4576,0.155),(0.4579,0.142),
           (0.4582,0.129),(0.4585,0.116),(0.4588,0.103),(0.4591,0.090),(0.4594,0.077),(0.4597,0.064),
           (0.4600,0.051),(0.4603,0.038),(0.4606,0.025),(0.4609,0.012),(0.4612,-0.001),(0.4615,-0.014),
           (0.4618,-0.027),
           (0.4562,0.279),(0.4565,0.266),(0.4568,0.253),(0.4571,0.240),(0.4574,0.227),(0.4577,0.214),
           (0.4580,0.201),(0.4583,0.188),(0.4586,0.175),(0.4589,0.162),(0.4592,0.149),(0.4595,0.136),
           (0.4598,0.123),(0.4601,0.110),(0.4604,0.097),(0.4607,0.084),(0.4610,0.071),(0.4613,0.058),
           (0.4616,0.045),(0.4619,0.032),(0.4622,0.019),(0.4625,0.006),(0.4628,-0.007),(0.4631,-0.020),
           (0.4634,-0.035),(0.4638,-0.050),(0.4642,-0.065),(0.4646,-0.080)]
c3_flat = [(0.362,-0.016),(0.366,-0.020),(0.370,-0.024),(0.374,-0.028),(0.378,-0.032),(0.382,-0.036),
           (0.386,-0.039),(0.390,-0.043),(0.394,-0.047),(0.398,-0.051),(0.402,-0.055),(0.406,-0.059),
           (0.410,-0.063),(0.414,-0.067),(0.418,-0.070),(0.422,-0.074),(0.426,-0.078),(0.430,-0.082),
           (0.434,-0.086),(0.438,-0.090),(0.442,-0.094),(0.446,-0.098),(0.450,-0.101),(0.454,-0.105),
           (0.458,-0.109),(0.462,-0.113),
           (0.364,-0.018),(0.368,-0.022),(0.372,-0.026),(0.376,-0.030),(0.380,-0.034),(0.384,-0.037),
           (0.388,-0.041),(0.392,-0.045),(0.396,-0.049),(0.400,-0.053),(0.404,-0.057),(0.408,-0.061),
           (0.412,-0.065),(0.416,-0.069),(0.420,-0.072),(0.424,-0.076),(0.428,-0.080),(0.432,-0.084),
           (0.436,-0.088),(0.440,-0.092),(0.444,-0.096),(0.448,-0.100),(0.452,-0.103),(0.456,-0.107),
           (0.460,-0.111),
           (0.400,-0.065),(0.406,-0.071),(0.412,-0.077),(0.418,-0.082),(0.424,-0.088),(0.430,-0.094),
           (0.436,-0.100),(0.442,-0.106),(0.448,-0.112),(0.454,-0.117),(0.460,-0.123),(0.466,-0.128),
           (0.472,-0.133)]
c3_steep = [(0.419,0.090),(0.4215,0.077),(0.424,0.064),(0.4265,0.051),(0.429,0.038),(0.4315,0.025),
            (0.434,0.012),(0.4365,-0.001),(0.439,-0.014),(0.4415,-0.027),(0.444,-0.040),(0.4465,-0.053),
            (0.449,-0.066),(0.4515,-0.079),(0.454,-0.092),(0.4565,-0.105),
            (0.420,0.084),(0.4228,0.070),(0.4253,0.057),(0.4278,0.044),(0.4303,0.031),(0.4328,0.018),
            (0.4353,0.005),(0.4378,-0.008),(0.4403,-0.021),(0.4428,-0.034),(0.4453,-0.047),(0.4478,-0.060),
            (0.4503,-0.073),(0.4528,-0.086),(0.4553,-0.099)]
c3_band = [(0.462,-0.140),(0.465,-0.150),(0.468,-0.160),(0.471,-0.170),(0.474,-0.179),(0.477,-0.188),
           (0.480,-0.197),(0.483,-0.206),(0.486,-0.215),(0.489,-0.224),(0.492,-0.233),(0.495,-0.242),
           (0.498,-0.251),(0.501,-0.260),(0.504,-0.269),(0.507,-0.278),(0.510,-0.287),(0.513,-0.296),
           (0.516,-0.305),(0.519,-0.314),(0.522,-0.323),(0.525,-0.332),(0.528,-0.341),(0.531,-0.350),
           (0.534,-0.359),(0.537,-0.367),
           (0.478,-0.170),(0.481,-0.179),(0.484,-0.188),(0.487,-0.197),(0.490,-0.206),(0.493,-0.215),
           (0.496,-0.224),(0.499,-0.233),(0.502,-0.242),(0.505,-0.251),(0.508,-0.260),(0.511,-0.269),
           (0.514,-0.278),(0.517,-0.287),(0.520,-0.296),(0.523,-0.305),(0.526,-0.314),(0.529,-0.323),
           (0.532,-0.332),
           (0.4725,-0.166),(0.4755,-0.175),(0.4785,-0.184),(0.4815,-0.193),(0.4845,-0.202),(0.4875,-0.211),
           (0.4905,-0.220),(0.4935,-0.229),(0.4965,-0.238),(0.4995,-0.247),(0.5025,-0.256),(0.5055,-0.265),
           (0.5085,-0.274),(0.5115,-0.283),(0.5145,-0.292),(0.5175,-0.301),(0.5205,-0.310),(0.5235,-0.319),
           (0.5265,-0.328),(0.5295,-0.337),(0.5325,-0.346),(0.5355,-0.355)]
c3_scatter = [(0.3979,0.220),(0.4033,0.235),(0.4086,0.223),(0.421,0.260),(0.4245,0.247),(0.4280,0.235),
              (0.4351,0.266),(0.4387,0.253),(0.4422,0.232),(0.4369,0.217),(0.4316,0.186),(0.4387,0.195),
              (0.444,0.177),(0.4457,0.158),(0.436,0.155),(0.4254,0.140),(0.421,0.110),(0.4156,0.140),
              (0.4068,0.134),(0.4121,0.079),(0.4015,0.122),(0.3988,0.110),(0.3962,0.091),(0.3855,0.061),
              (0.3811,0.048),(0.3723,0.039),(0.3705,0.018),(0.3811,-0.007),(0.3997,0.018),(0.4033,0.048),
              (0.4086,0.048),(0.4139,0.030),(0.4174,-0.013),(0.4263,-0.013),(0.4298,0.024),(0.4316,0.055),
              (0.444,0.067),(0.4466,0.097),(0.451,0.128),(0.4475,0.048),(0.4475,0.012),(0.4652,0.110),
              (0.4687,0.097),(0.4634,0.073),(0.467,0.042),(0.4705,0.177),(0.4696,0.155),(0.474,0.079),
              (0.4776,0.030),(0.4847,0.085),(0.49,0.073),(0.4917,0.018),(0.4864,-0.007),(0.4829,-0.031),
              (0.474,-0.031),(0.4873,-0.056),(0.49,-0.074),(0.4847,-0.089),(0.4652,-0.056),(0.4705,-0.105),
              (0.4608,-0.135),(0.4475,-0.141),(0.4387,-0.141),(0.4316,-0.160),(0.436,-0.178),(0.444,-0.166),
              (0.452,-0.160),(0.4564,-0.166),(0.4652,-0.160),(0.474,-0.151),(0.4192,-0.089),(0.4139,-0.111),
              (0.4086,-0.105),(0.4068,-0.093),(0.3997,-0.086),(0.4033,-0.105),(0.3847,-0.068),(0.3811,-0.080),
              (0.3696,0.042),(0.3679,0.018),(0.3882,-0.117),(0.4103,-0.117),(0.4156,-0.135),(0.3962,0.158),
              (0.3873,0.122),(0.375,0.054),(0.3811,0.039),(0.3935,0.064),
              (0.4337,-0.178),(0.4408,-0.184),(0.4487,-0.190),(0.4532,-0.184),(0.4576,-0.197),(0.4620,-0.219),
              (0.4664,-0.234),(0.4708,-0.225),(0.4726,-0.257),(0.4762,-0.244),(0.4797,-0.263),(0.4841,-0.250),
              (0.4886,-0.234),(0.4938,-0.276),(0.4974,-0.288),(0.5027,-0.298),(0.508,-0.298),(0.5151,-0.219),
              (0.524,-0.234),(0.5266,-0.269),(0.5231,-0.228),(0.5133,-0.203),(0.5062,-0.190),
              (0.5068,0.012),(0.5103,-0.031),(0.5041,-0.034),(0.5023,-0.065),(0.5157,-0.111),(0.5059,-0.105),
              (0.505,-0.126),(0.5085,-0.157),(0.5184,-0.132),(0.4996,-0.148),
              (0.5238,-0.219),(0.5238,-0.238),(0.5268,-0.269)]
c3_more = [(0.425,0.230),(0.430,0.210),(0.435,0.240),(0.440,0.205),(0.447,0.220),(0.450,0.190),
           (0.445,0.145),(0.440,0.120),(0.435,0.135),(0.430,0.115),(0.425,0.130),(0.418,0.125),
           (0.412,0.105),(0.405,0.095),(0.410,0.065),(0.418,0.055),(0.425,0.045),(0.435,0.075),
           (0.440,0.040),(0.445,0.025),(0.450,0.060),(0.453,0.090),(0.465,0.130),(0.470,0.115),
           (0.475,0.120),(0.480,0.100),(0.488,0.050),(0.495,0.035),(0.500,0.000),(0.485,0.015),
           (0.478,-0.005),(0.470,0.020),(0.468,-0.020),(0.480,-0.060),(0.475,-0.075),(0.490,-0.045),
           (0.495,-0.090),(0.505,-0.095),(0.510,-0.060),(0.515,-0.075),(0.520,-0.120),(0.510,-0.140),
           (0.500,-0.170),(0.490,-0.180),(0.480,-0.160),(0.470,-0.140),(0.460,-0.155),(0.455,-0.175),
           (0.445,-0.180),(0.440,-0.200),(0.450,-0.210),(0.460,-0.200),(0.468,-0.215),(0.475,-0.220),
           (0.480,-0.235),(0.488,-0.255),(0.495,-0.265),(0.510,-0.310),(0.515,-0.320),(0.520,-0.275),
           (0.525,-0.255),(0.530,-0.290),(0.395,0.050),(0.390,0.035),(0.385,0.000),(0.390,-0.020),
           (0.400,-0.010),(0.410,0.000),(0.405,0.005),(0.420,0.010),(0.425,-0.030),(0.430,-0.020),
           (0.435,-0.035),(0.445,-0.060),(0.450,-0.075),(0.440,-0.120),(0.430,-0.115),(0.420,-0.130),
           (0.395,-0.100),(0.400,-0.120),(0.380,-0.090),(0.375,-0.080)]

# cluster 4 (cyan)
c4_tip = [(0.2405,0.103),(0.2420,0.103),(0.2435,0.102),(0.2450,0.103),(0.2508,0.128),(0.2535,0.146),
          (0.257,0.149),(0.2508,0.118),(0.253,0.112),(0.2535,0.091),(0.257,0.088),(0.262,0.085),
          (0.247,0.108),(0.250,0.125),(0.253,0.135),(0.256,0.148),(0.259,0.160)]
c4_top = [(0.262,0.170),(0.266,0.181),(0.270,0.193),(0.274,0.205),(0.278,0.216),(0.282,0.228),(0.286,0.239),
          (0.290,0.251),(0.294,0.262),(0.298,0.274),(0.302,0.285),(0.306,0.297),(0.310,0.309),(0.314,0.320),
          (0.318,0.332),(0.322,0.343),(0.326,0.355),(0.330,0.366),(0.334,0.378),(0.338,0.389),(0.342,0.401),
          (0.346,0.412),(0.349,0.418),
          (0.264,0.176),(0.268,0.187),(0.272,0.199),(0.276,0.210),(0.280,0.222),(0.284,0.233),(0.288,0.245),
          (0.292,0.257),(0.296,0.268),(0.300,0.280),(0.304,0.291),(0.308,0.303),(0.312,0.314),(0.316,0.326),
          (0.320,0.337),(0.324,0.349),(0.328,0.360),(0.332,0.372),(0.336,0.383),(0.340,0.395),(0.344,0.406),
          (0.348,0.415),
          (0.300,0.262),(0.305,0.275),(0.310,0.288),(0.316,0.300),(0.322,0.313),(0.328,0.326),(0.334,0.340),
          (0.340,0.352),(0.346,0.365)]
c4_mid = [(0.256,0.120),(0.259,0.124),(0.262,0.128),(0.265,0.131),(0.268,0.135),(0.271,0.138),(0.274,0.142),
          (0.277,0.145),(0.280,0.149),(0.283,0.152),(0.286,0.156),(0.289,0.160),(0.292,0.163),(0.295,0.167),
          (0.298,0.171),(0.301,0.174),(0.304,0.178),(0.307,0.182),
          (0.262,0.122),(0.268,0.129),(0.274,0.136),(0.280,0.143),(0.286,0.150),(0.292,0.157),(0.298,0.165),
          (0.304,0.172)]
c4_low = [(0.258,0.088),(0.262,0.084),(0.266,0.080),(0.270,0.076),(0.274,0.072),(0.278,0.068),(0.282,0.065),
          (0.286,0.061),(0.290,0.057),(0.294,0.053),(0.298,0.049),(0.302,0.045),(0.306,0.041),(0.310,0.037),
          (0.314,0.034),(0.318,0.030),(0.322,0.026),(0.326,0.022),(0.330,0.018),(0.334,0.014),(0.338,0.010),
          (0.342,0.006),(0.346,0.002),(0.350,-0.002),(0.354,-0.006),(0.358,-0.010),(0.362,-0.014),
          (0.260,0.086),(0.264,0.082),(0.268,0.078),(0.272,0.074),(0.276,0.070),(0.280,0.066),(0.284,0.063),
          (0.288,0.059),(0.292,0.055),(0.296,0.051),(0.300,0.047),(0.304,0.043),(0.308,0.039),(0.312,0.035),
          (0.316,0.032),(0.320,0.028),(0.324,0.024),(0.328,0.020),(0.332,0.016),(0.336,0.012),(0.340,0.008),
          (0.344,0.004),(0.348,0.000),(0.352,-0.004),(0.356,-0.008),(0.360,-0.012)]
c4_bottom = [(0.266,0.057),(0.272,0.046),(0.277,0.036),(0.2836,0.027),(0.290,0.013),(0.296,0.003),
             (0.3013,-0.007),(0.307,-0.018),(0.313,-0.027),(0.319,-0.037),(0.325,-0.050),(0.331,-0.062),
             (0.3367,-0.074),(0.342,-0.084),(0.348,-0.094),(0.3543,-0.105),(0.358,-0.112),(0.362,-0.120),
             (0.366,-0.128),(0.370,-0.135),(0.374,-0.143),(0.378,-0.150),(0.382,-0.158),(0.386,-0.166),
             (0.390,-0.173),(0.394,-0.181),(0.398,-0.188),(0.402,-0.196),(0.406,-0.204),(0.410,-0.211),
             (0.414,-0.219),(0.418,-0.227),(0.422,-0.234),(0.426,-0.242),(0.430,-0.250),(0.434,-0.256),
             (0.360,-0.116),(0.364,-0.124),(0.368,-0.131),(0.372,-0.139),(0.376,-0.147),(0.380,-0.154),
             (0.384,-0.162),(0.388,-0.170),(0.392,-0.177),(0.396,-0.185),(0.400,-0.192),(0.404,-0.200),
             (0.408,-0.207),(0.412,-0.215),(0.416,-0.223),(0.420,-0.230),(0.424,-0.238),(0.428,-0.246),
             (0.432,-0.253),
             (0.2614,0.060),(0.2694,0.051),(0.2791,0.033),(0.2853,0.027),(0.2906,0.015),(0.2968,0.002),
             (0.3039,-0.010),(0.3145,-0.007),(0.3216,-0.031),(0.3278,-0.028),(0.3349,-0.040),(0.3437,-0.053),
             (0.334,-0.062),(0.3455,-0.050),(0.3543,-0.059)]
c4_scatter = [(0.2676,0.110),(0.2836,0.116),(0.2862,0.106),(0.2915,0.125),(0.2844,0.140),(0.2950,0.091),
              (0.2986,0.103),(0.2968,0.116),(0.3013,0.128),(0.2968,0.143),(0.3057,0.110),(0.3066,0.091),
              (0.3074,0.070),(0.3048,0.082),(0.3057,0.146),(0.3083,0.143),(0.3154,0.146),(0.3136,0.122),
              (0.3136,0.100),(0.3154,0.079),(0.3154,0.048),(0.3189,0.054),(0.3198,0.110),(0.3225,0.134),
              (0.3243,0.152),(0.3260,0.097),(0.3278,0.079),(0.3234,0.073),(0.3305,0.110),(0.3331,0.128),
              (0.3367,0.094),(0.3384,0.079),(0.3411,0.060),(0.3437,0.103),(0.3473,0.122),(0.3455,0.085),
              (0.3490,0.060),(0.3278,0.042),(0.3296,0.033),(0.3455,0.030),(0.3508,0.033),(0.3561,0.054),
              (0.3543,0.079),(0.3579,0.110),(0.3455,0.186),(0.3473,0.171),(0.3367,0.201),(0.3207,0.253),
              (0.3145,0.232),(0.3101,0.247),(0.3066,0.253),(0.2977,0.238),(0.2977,0.223),(0.2950,0.201),
              (0.2897,0.201),(0.2836,0.186),(0.2782,0.192),(0.2738,0.174),(0.2747,0.165),(0.3154,0.174),
              (0.3437,0.278),(0.3189,0.284),(0.3526,0.269),(0.3543,0.171),(0.3561,0.161),
              (0.3367,0.349),(0.349,0.364),(0.3455,0.395),(0.326,0.318),(0.3384,0.325),(0.3207,0.297),
              (0.3322,0.309),(0.3508,0.334),(0.3543,0.309),(0.3464,0.322),(0.3136,0.291),
              (0.3643,0.220),(0.3732,0.207),(0.3776,0.217),(0.3643,0.165),(0.3696,0.177),(0.3767,0.171),
              (0.3723,0.158),(0.3794,0.171),(0.3749,0.122),(0.3643,0.110),(0.3696,0.097),(0.3608,0.079),
              (0.3679,0.061),(0.3625,0.036),(0.3723,0.030),(0.383,0.042),(0.383,0.009),(0.3882,0.201),
              (0.3855,0.146),(0.3944,0.048),(0.3926,0.030),(0.3847,-0.004),(0.3723,0.006),(0.3679,-0.031),
              (0.3643,-0.050),(0.3767,-0.068),(0.3661,-0.080),(0.3732,-0.090),(0.3625,-0.099),(0.3696,-0.117),
              (0.3811,-0.114),(0.3882,-0.117),(0.3944,-0.105),(0.3997,-0.089),(0.3944,-0.135),(0.4033,-0.145),
              (0.3988,-0.166),(0.4086,-0.160),(0.4121,-0.135),(0.4156,-0.151),(0.4210,-0.135),(0.4227,-0.169),
              (0.4068,-0.178),(0.4103,-0.013),(0.405,-0.044),(0.4086,0.110),(0.4059,0.116),(0.4245,0.113),
              (0.4378,0.097),(0.4369,0.008),(0.4271,-0.037),(0.4325,-0.099),(0.3855,-0.025),(0.4121,-0.083),
              (0.3608,-0.031),(0.3643,0.232),(0.3855,0.232),(0.408,0.205),(0.415,0.190),(0.420,0.145),
              (0.4301,-0.203),(0.4337,-0.228),(0.4390,-0.215),(0.4443,-0.222),(0.4487,-0.228),(0.4390,-0.250),
              (0.4293,-0.244),(0.4461,-0.234),(0.4505,-0.238)]
c4_more = [(0.318,0.165),(0.322,0.185),(0.328,0.175),(0.334,0.160),(0.338,0.145),(0.342,0.135),(0.330,0.140),
           (0.326,0.120),(0.336,0.110),(0.340,0.095),(0.344,0.115),(0.350,0.130),(0.352,0.145),(0.348,0.100),
           (0.355,0.090),(0.358,0.095),(0.362,0.130),(0.366,0.145),(0.360,0.150),(0.364,0.185),(0.368,0.195),
           (0.372,0.190),(0.355,0.205),(0.348,0.215),(0.340,0.230),(0.330,0.240),(0.325,0.265),(0.330,0.285),
           (0.338,0.300),(0.345,0.290),(0.350,0.275),(0.356,0.260),(0.360,0.285),(0.352,0.350),(0.345,0.345),
           (0.340,0.330),(0.335,0.315),(0.355,0.375),(0.350,0.385),(0.358,0.395),(0.310,0.210),(0.305,0.225),
           (0.300,0.190),(0.292,0.175),(0.286,0.170),(0.320,0.060),(0.325,0.055),(0.335,0.045),(0.340,0.040),
           (0.330,0.005),(0.338,-0.010),(0.345,-0.025),(0.352,-0.035),(0.358,-0.045),(0.360,-0.070),
           (0.355,-0.080),(0.350,-0.070),(0.372,-0.050),(0.378,-0.060),(0.385,-0.085),(0.390,-0.095),
           (0.395,-0.075),(0.402,-0.115),(0.410,-0.100),(0.418,-0.115),(0.425,-0.120),(0.430,-0.140),
           (0.428,-0.160),(0.420,-0.155),(0.415,-0.175),(0.410,-0.185),(0.435,-0.200),(0.440,-0.190),
           (0.378,-0.125),(0.390,-0.145),(0.384,-0.140),(0.372,-0.105),(0.368,-0.095),(0.362,-0.080),
           (0.372,0.075),(0.378,0.085),(0.384,0.070),(0.390,0.100),(0.392,0.115),(0.398,0.135),(0.380,0.145),
           (0.375,0.135),(0.370,0.140),(0.390,0.175),(0.395,0.190),(0.400,0.200),(0.405,0.230),(0.410,0.125),
           (0.415,0.105),(0.425,0.085),(0.430,0.060),(0.425,0.020),(0.432,0.030),(0.440,0.000),(0.440,-0.040),
           (0.435,-0.060),(0.430,-0.050),(0.420,-0.020),(0.415,0.000),(0.395,-0.020),(0.400,-0.030),
           (0.390,0.005),(0.400,0.065),(0.405,0.080),(0.365,0.005),(0.370,-0.005),(0.375,0.020),(0.380,0.015)]

cluster_ids = [0, 1, 4, 2, 3, 1]
cluster_pts = [c0_edge + c0_ray_a + c0_ray_a2 + c0_ray_b + c0_low + c0_ray_e + c0_ray_f + c0_scatter + c0_more,
               c1_tip + c1_top + c1_wedge + c1_steep + c1_vert + c1_right + c1_scatter,
               c4_tip + c4_top + c4_mid + c4_low + c4_bottom + c4_scatter + c4_more,
               c2_spike + c2_arc + c2_fill + c2_scatter + c2_diag,
               c3_more + c3_scatter + c3_vert + c3_flat + c3_steep + c3_band,
               c1_late]

xs, ys, labels = [], [], []
for k, pts in zip(cluster_ids, cluster_pts):
    arr = np.array(pts)
    xs.append(arr[:, 0])
    ys.append(arr[:, 1])
    labels.append(np.full(len(arr), k))
x = np.concatenate(xs)
y = np.concatenate(ys)
lab = np.concatenate(labels)

fig = plt.figure(figsize=(2573/300, 2100/300), dpi=300)
ax = fig.add_axes([218/2573, 1 - 1940/2100, (2540-218)/2573, (1940-94)/2100])
sc = ax.scatter(x, y, c=lab, cmap='tab10', s=50, alpha=0.7)
ax.set_title("Document Clusters by 5 Topics")
ax.set_xlabel("Component 1")
ax.set_ylabel("Component 2")
ax.legend(*sc.legend_elements(), title="Cluster", loc="upper right")

fig.savefig("out.png", dpi=300)
